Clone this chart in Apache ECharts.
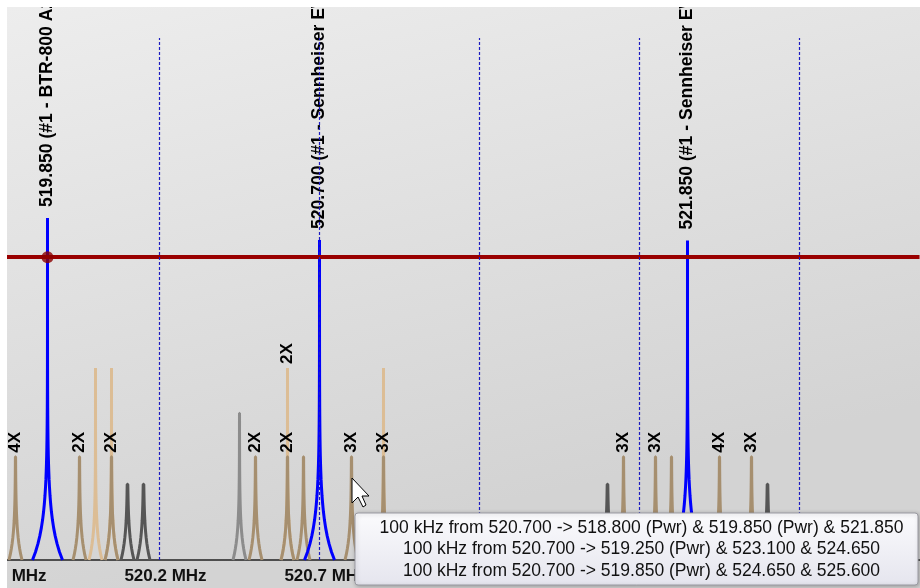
<!DOCTYPE html>
<html>
<head>
<meta charset="UTF-8"/>
<script src="https://cdn.jsdelivr.net/npm/echarts@6/dist/echarts.min.js"></script>
<title>Intermod plot</title>
<style>html,body{margin:0;padding:0;background:#fff}#main{width:920px;height:588px}</style>
</head>
<body>
<div id="main"></div>
<script>
    // carriers (blue)
    var carrierFreqs = [519.850, 520.700, 521.850];
    var carrierLevels = [65.5, 61.3, 61.2];
    var carrierNames = ['519.850 (#1 - BTR-800 A2)', '520.700 (#1 - Sennheiser EW 100 G3)', '521.850 (#1 - Sennheiser EW 100 G3)'];

    // intermod products
    var brownFreqs = [519.75, 519.95, 520.05, 520.5, 520.6, 520.65, 520.8, 520.9, 521.65, 521.75, 521.8, 521.95, 522.05];
    var brownLevels = [19.8, 19.8, 19.8, 19.8, 19.8, 19.8, 19.8, 19.8, 19.8, 19.8, 19.8, 19.8, 19.8];
    var brownTags = ['4X', '2X', '2X', '2X', '2X', '', '3X', '3X', '3X', '3X', '', '4X', '3X'];
    var tanFreqs = [520.0, 520.05, 520.6, 520.9];
    var tanLevels = [36.8, 36.8, 36.8, 36.8];
    var tanTags = ['', '', '2X', ''];
    var darkFreqs = [520.1, 520.15, 521.6, 522.1];
    var darkLevels = [14.5, 14.5, 14.5, 14.5];
    var greyFreqs = [520.45];
    var greyLevels = [28.1];

    var threshold = 58.0;
    var gridFreqs = [520.2, 520.7, 521.2, 521.7, 522.2];
    var tipLines = [
        '100 kHz from 520.700 -> 518.800 (Pwr) & 519.850 (Pwr) & 521.850',
        '100 kHz from 520.700 -> 519.250 (Pwr) & 523.100 & 524.650',
        '100 kHz from 520.700 -> 519.850 (Pwr) & 524.650 & 525.600'
    ];

    var FONT = '"Liberation Sans", Arial, sans-serif';

    function pairs(xs, ys) {
        return xs.map(function (x, i) { return [x, ys[i]]; });
    }

    // spike with a flared skirt at the base
    function peakRenderer(color, skirt, rise, gap, tags, fontSize) {
        return function (params, api) {
            var f = api.value(0), lv = api.value(1);
            var top = api.coord([f, lv]);
            var base = api.coord([f, 0])[1];
            var x = top[0], h = base - top[1];
            var left = [], right = [];
            for (var k = 0; k <= 30; k++) {
                var dx = skirt * Math.pow(0.8, k);
                var up = Math.min(h, rise * Math.log(skirt / dx));
                left.push([x - dx, base - up]);
                right.unshift([x + dx, base - up]);
            }
            var pts = left.concat([[x, top[1]]], right);
            var children = [{
                type: 'polyline',
                shape: {points: pts},
                style: {stroke: color, lineWidth: 3, fill: 'none', lineJoin: 'bevel'}
            }];
            var tag = tags ? tags[params.dataIndex] : '';
            if (tag) {
                children.push({
                    type: 'text',
                    x: x, y: top[1] - gap,
                    rotation: Math.PI / 2,
                    style: {text: tag, fill: '#000', font: 'bold ' + fontSize + 'px ' + FONT, align: 'left', verticalAlign: 'middle'}
                });
            }
            return {type: 'group', children: children};
        };
    }

    var myChart = echarts.init(document.getElementById('main'));

    var option = {
        backgroundColor: '#fff',
        animation: false,
        grid: {left: -0.5, right: 0.5, top: 38, bottom: 28, containLabel: false, outerBoundsMode: 'none'},
        xAxis: {
            type: 'value',
            min: 519.7,
            max: 522.575,
            interval: 0.5,
            axisLine: {show: true, lineStyle: {color: '#222', width: 1.5}},
            axisTick: {show: false},
            splitLine: {show: false},
            axisLabel: {
                showMinLabel: true,
                showMaxLabel: false,
                color: '#111',
                fontWeight: 'bold',
                fontSize: 17,
                fontFamily: FONT,
                margin: 8,
                padding: [0, 0, 0, 12],
                formatter: function (v) { return v.toFixed(1) + ' MHz'; }
            }
        },
        yAxis: {type: 'value', min: 0, max: 100, show: false},
        series: [
            {
                type: 'custom', z: 2, clip: false,
                renderItem: peakRenderer('#dcbd95', 6.5, 25, 4, tanTags, 17),
                data: pairs(tanFreqs, tanLevels)
            },
            {
                type: 'custom', z: 2, clip: false,
                renderItem: peakRenderer('#8c8c8c', 6.5, 25, 4, null, 17),
                data: pairs(greyFreqs, greyLevels)
            },
            {
                type: 'custom', z: 2, clip: false,
                renderItem: peakRenderer('#565656', 6.5, 25, 4, null, 17),
                data: pairs(darkFreqs, darkLevels)
            },
            {
                type: 'custom', z: 3, clip: false,
                renderItem: peakRenderer('#a68f6f', 6.5, 25, 4, brownTags, 17),
                data: pairs(brownFreqs, brownLevels)
            },
            {
                type: 'custom', z: 4, clip: false,
                renderItem: peakRenderer('#0000ff', 15, 36, 11, carrierNames, 17.6),
                data: pairs(carrierFreqs, carrierLevels)
            },
            {
                type: 'line', z: 6, data: [],
                markLine: {
                    silent: true, symbol: ['none', 'none'], label: {show: false},
                    lineStyle: {color: '#990000', width: 4, type: 'solid'},
                    data: [{yAxis: threshold}]
                }
            },
            {
                type: 'scatter', z: 7, symbol: 'circle', symbolSize: 12,
                itemStyle: {color: '#8b0000'},
                data: [[carrierFreqs[0], threshold]]
            },
            {
                type: 'line', z: 8, data: [],
                markLine: {
                    silent: true, symbol: ['none', 'none'], label: {show: false},
                    lineStyle: {color: '#1c1cc0', width: 1.2, type: [3, 2], opacity: 1},
                    data: gridFreqs.map(function (v) { return {xAxis: v}; })
                }
            }
        ],
        graphic: [
            {
                type: 'rect', z: -10,
                shape: {x: 7, y: 7, width: 913, height: 581},
                style: {fill: new echarts.graphic.LinearGradient(0, 0, 0.15, 1, [
                    {offset: 0, color: '#ededed'}, {offset: 1, color: '#d3d3d3'}])}
            },
            {type: 'rect', z: 100, shape: {x: 0, y: 0, width: 920, height: 7}, style: {fill: '#fff'}},
            {type: 'rect', z: 100, shape: {x: 0, y: 0, width: 7, height: 588}, style: {fill: '#fff'}},
            {
                type: 'group', x: 355, y: 513, z: 100,
                children: [
                    {
                        type: 'rect', z: 100,
                        shape: {x: 0, y: 0, width: 563, height: 72, r: 3},
                        style: {
                            fill: new echarts.graphic.LinearGradient(0, 0, 0, 1, [
                                {offset: 0, color: '#fbfbfd'}, {offset: 1, color: '#e5e5ee'}]),
                            stroke: '#9a9aa2', lineWidth: 1,
                            shadowBlur: 4, shadowColor: 'rgba(0,0,0,0.25)', shadowOffsetX: 1, shadowOffsetY: 1
                        }
                    }
                ].concat(tipLines.map(function (t, i) {
                    return {
                        type: 'text', z: 101, x: 286.5, y: 15 + i * 21.5,
                        style: {text: t, fill: '#111', font: '17.5px ' + FONT, align: 'center', verticalAlign: 'middle'}
                    };
                }))
            },
            {
                // mouse pointer
                type: 'polygon', z: 102, x: 352, y: 478,
                shape: {points: [[0, 0], [0, 25], [6, 19], [11, 29], [14, 27], [10, 18], [17, 18]]},
                style: {fill: '#fff', stroke: '#000', lineWidth: 1}
            }
        ]
    };

    myChart.setOption(option);
</script>
</body>
</html>
